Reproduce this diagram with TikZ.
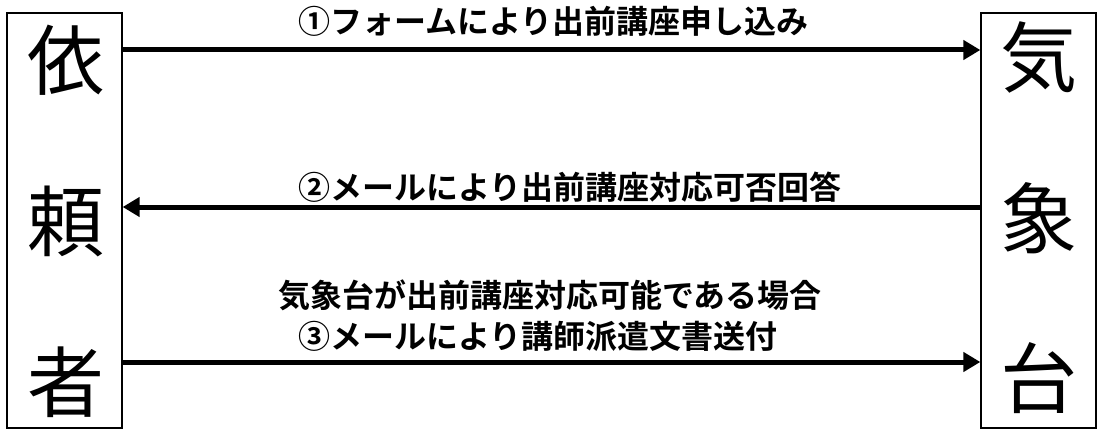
\documentclass[tikz,border=0pt]{standalone}
\usepackage{fontspec}
\setmainfont{Noto Sans CJK JP}
\newfontfamily\labfont{Noto Sans CJK JP Bold}
\usetikzlibrary{arrows.meta,calc}
\tikzset{
  party/.style={draw=black,line width=1.3pt,minimum width=115pt,minimum height=415pt,inner sep=0pt},
  bigchar/.style={font=\fontsize{77}{77}\selectfont,inner sep=0pt},
  lab/.style={font=\labfont\fontsize{32}{32}\selectfont,inner sep=0pt,anchor=west},
  flow/.style={line width=5pt,-{Triangle[length=17pt,width=19pt]}}
}
\begin{document}
\begin{tikzpicture}[x=1pt,y=-1pt]
\useasboundingbox (0,0) rectangle (1105,436);
\node[party] (L) at (64.5,220.5) {};
\node[party] (R) at (1038.5,220.5) {};
\node[bigchar] (l1) at (66,60) {依};
\node[bigchar] (l2) at (66,221) {頼};
\node[bigchar] (l3) at (66,382) {者};
\node[bigchar] (r1) at (1039,57) {気};
\node[bigchar] (r2) at (1039,218) {象};
\node[bigchar] (r3) at (1039,378) {台};
\coordinate (a1s) at ($(L.east)+(0,-170.5)$);
\coordinate (a1e) at ($(R.west)+(0,-170.5)$);
\coordinate (a2s) at ($(R.west)+(0,-13.5)$);
\coordinate (a2e) at ($(L.east)+(0,-13.5)$);
\coordinate (a3s) at ($(L.east)+(0,141.5)$);
\coordinate (a3e) at ($(R.west)+(0,141.5)$);
\draw[flow] (a1s) -- (a1e);
\draw[flow] (a2s) -- (a2e);
\draw[flow] (a3s) -- (a3e);
\node[lab] (t1) at (298,21) {①フォームにより出前講座申し込み};
\node[lab] (t2) at (298,187) {②メールにより出前講座対応可否回答};
\node[lab] (t3) at (278,295) {気象台が出前講座対応可能である場合};
\node[lab] (t4) at (298,336) {③メールにより講師派遣文書送付};
\end{tikzpicture}
\end{document}
